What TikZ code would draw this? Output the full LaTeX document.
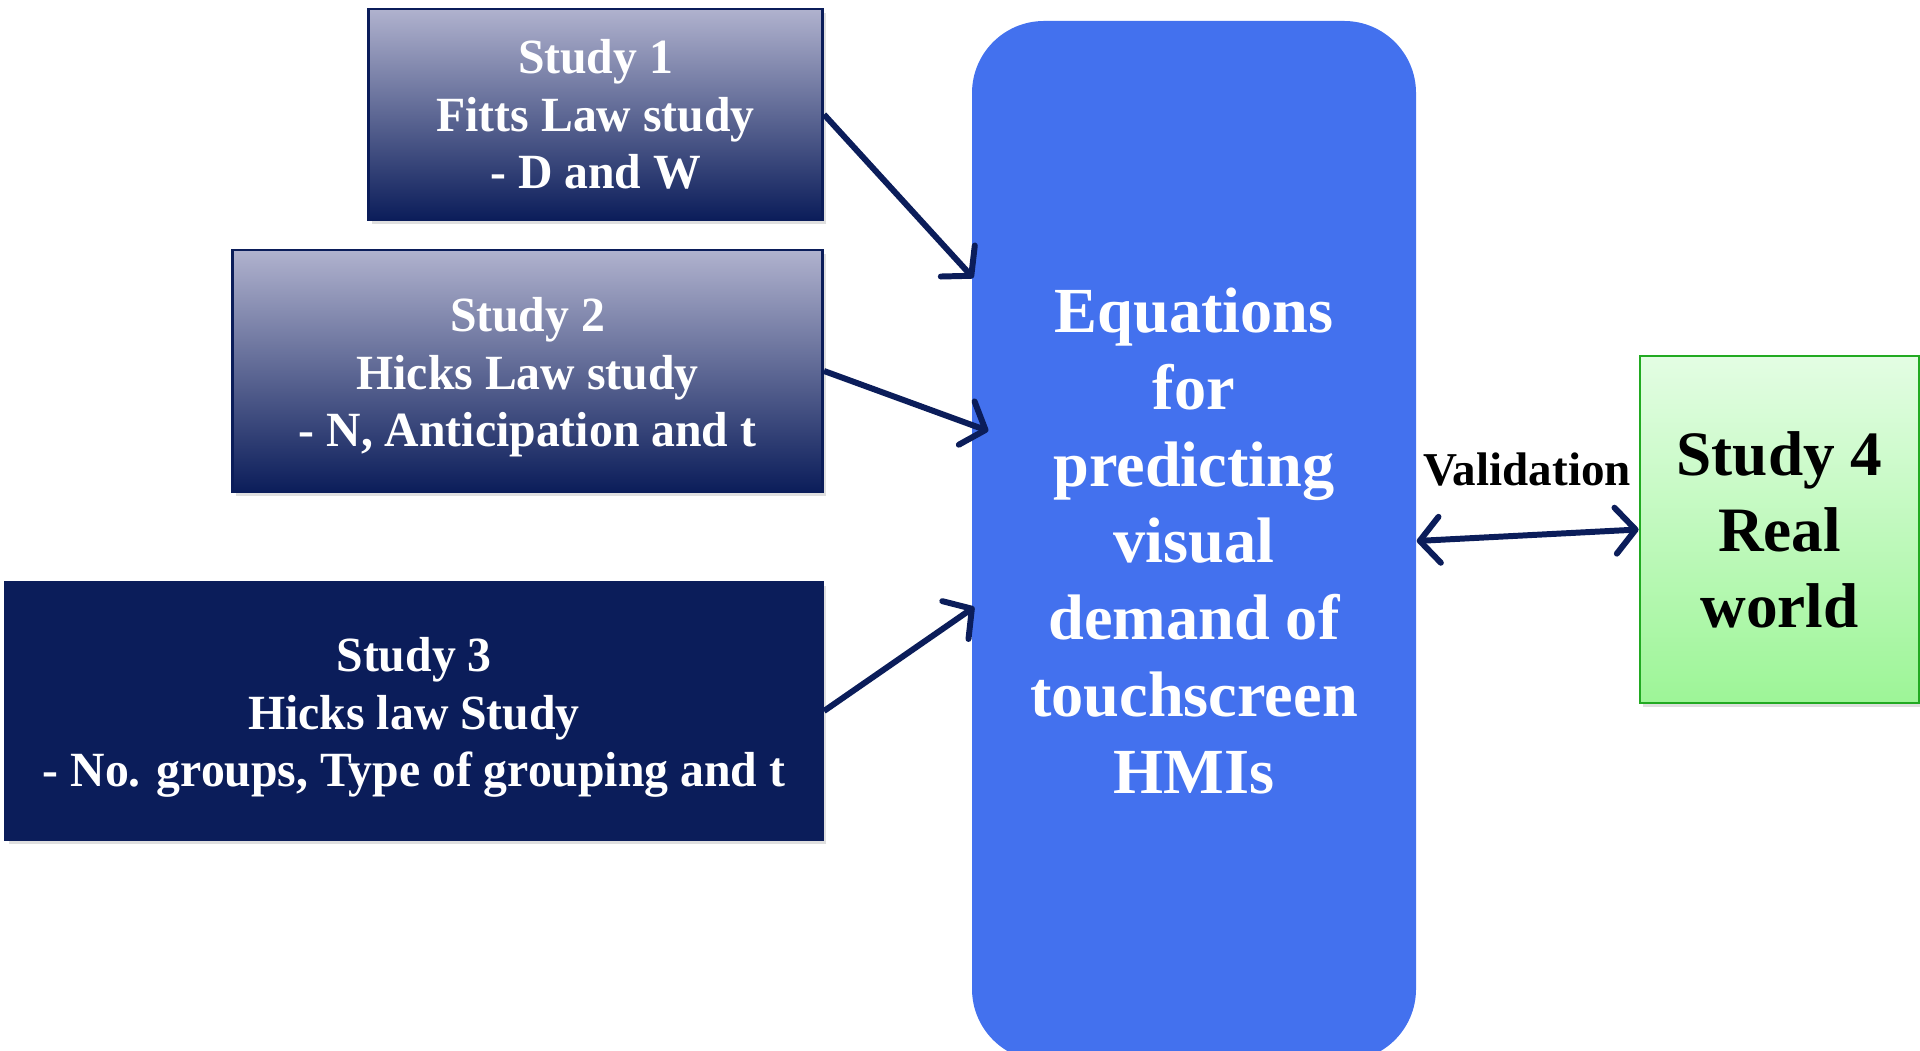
\documentclass[tikz,border=0pt]{standalone}
\usepackage{fontspec}
\setmainfont{Liberation Serif}
\newfontfamily\narrowfont[FakeStretch=0.97]{Liberation Serif}
\usetikzlibrary{arrows.meta}
\usetikzlibrary{shadows}

\definecolor{navy}{HTML}{0B1D5A}
\definecolor{lavender}{HTML}{B0B2CE}
\definecolor{midlav}{HTML}{8789A8}
\definecolor{royal}{HTML}{4371EE}
\definecolor{mint}{HTML}{E3FDE3}
\definecolor{leaf}{HTML}{9DF597}
\definecolor{leafline}{HTML}{22AA22}

\tikzset{
  studybox/.style={draw=navy, line width=0.8pt, anchor=east, inner sep=0pt, align=center,
    text=white, font=\narrowfont\bfseries\fontsize{14}{16.3}\selectfont,
    drop shadow={shadow xshift=0.03cm, shadow yshift=-0.04cm, opacity=0.25}},
  fadebox/.style={studybox, top color=lavender, middle color=midlav, bottom color=navy},
  barb/.tip={Straight Barb[length=2mm,width=4.6mm,round]},
  arrowline/.style={draw=navy, line width=1.7pt, -barb}
}

\begin{document}
\begin{tikzpicture}
\useasboundingbox (0,0) rectangle (19.2,10.51);
\node[fadebox, minimum width=4.54cm, minimum height=2.11cm] (S1) at (8.24,9.365)
  {Study 1\\Fitts Law study\\- D and W};
\node[fadebox, minimum width=5.90cm, minimum height=2.42cm] (S2) at (8.24,6.80)
  {\rule{0pt}{0.47cm}Study 2\\Hicks Law study\\- N, Anticipation and t};
\node[studybox, fill=navy, minimum width=8.17cm, minimum height=2.58cm] (S3) at (8.24,3.40)
  {\rule{0pt}{0.47cm}Study 3\\Hicks law Study\\- No. groups, Type of grouping and t};
\node[fill=royal, rounded corners=0.72cm, minimum width=4.44cm, minimum height=10.40cm,
  inner sep=0pt, align=center, text=white, font=\bfseries\fontsize{18.3}{21.9}\selectfont]
  (EQ) at (11.94,5.10)
  {Equations\\for\\predicting\\visual\\demand of\\touchscreen\\HMIs};
\node[draw=leafline, line width=0.8pt, top color=mint, bottom color=leaf,
  minimum width=2.79cm, minimum height=3.47cm, inner sep=0pt, align=center,
  font=\bfseries\fontsize{18}{21.6}\selectfont,
  drop shadow={shadow xshift=0.03cm, shadow yshift=-0.04cm, opacity=0.25}]
  (S4) at (17.795,5.215) {Study 4\\Real\\world};
\node[font=\bfseries\fontsize{13.4}{15}\selectfont] (VAL) at (15.27,5.81) {Validation};
% arrows into the equations box
\draw[arrowline] (S1.east) -- ([shift={(0.02,2.63)}]EQ.west);
\draw[arrowline] (S2.east) -- ([shift={(0.17,1.10)}]EQ.west);
\draw[arrowline] (S3.east) -- ([shift={(0.03,-0.66)}]EQ.west);
\draw[arrowline, barb-barb] (EQ.east) -- (S4.west);
\end{tikzpicture}
\end{document}
